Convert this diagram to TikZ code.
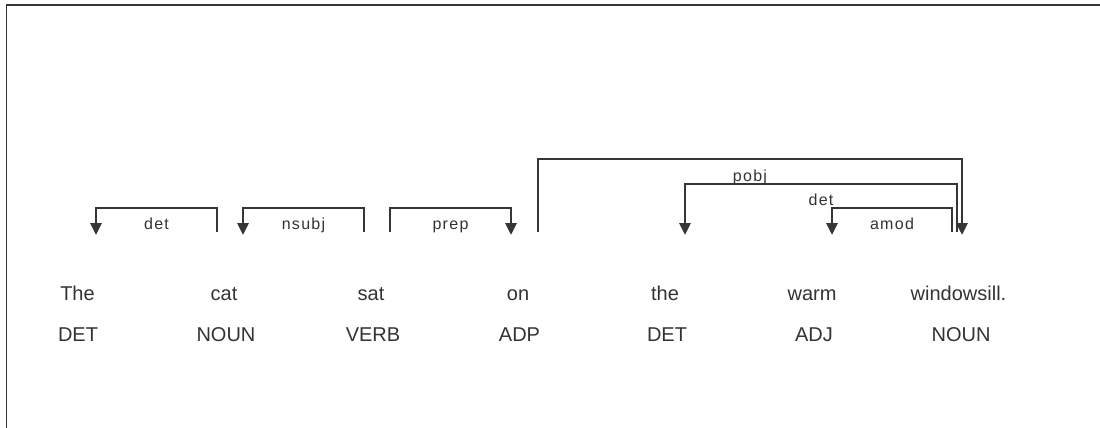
\documentclass[tikz,border=0pt]{standalone}
\usepackage{fontspec}
\setmainfont{Liberation Sans}
\usetikzlibrary{arrows.meta}
\definecolor{ink}{HTML}{333333}
\definecolor{rule}{HTML}{363636}
\begin{document}
\begin{tikzpicture}[x=1pt,y=-1pt,
  word/.style={anchor=base,text=ink,font=\fontsize{20}{24}\selectfont,inner sep=0pt},
  arclabel/.style={anchor=base,text=ink,font=\fontsize{16}{19}\selectfont\addfontfeature{LetterSpace=8},inner sep=0pt},
  deparc/.style={draw=rule,line width=2.8pt,-{Triangle[width=11pt,length=12pt]}},
  frameline/.style={draw=rule,line width=1.5pt}]
\useasboundingbox (0,0) rectangle (1100,428);
\draw[frameline] (6.5,428) -- (6.5,5) -- (1100,5);
% words
\node[word] (w0) at (77.5,300) {The};
\node[word] (w1) at (224,300) {cat};
\node[word] (w2) at (371,300) {sat};
\node[word] (w3) at (518,300) {on};
\node[word] (w4) at (665,300) {the};
\node[word] (w5) at (812,300) {warm};
\node[word] (w6) at (958.5,300) {windowsill.};
% tags
\node[word] (t0) at (78,341) {DET};
\node[word] (t1) at (226,341) {NOUN};
\node[word] (t2) at (373,341) {VERB};
\node[word] (t3) at (519.5,341) {ADP};
\node[word] (t4) at (667,341) {DET};
\node[word] (t5) at (814,341) {ADJ};
\node[word] (t6) at (961,341) {NOUN};
% arc feet
\coordinate (d1s) at (217,232); \coordinate (d1e) at (96,235);
\coordinate (d2s) at (364,232); \coordinate (d2e) at (243,235);
\coordinate (d3s) at (390,232); \coordinate (d3e) at (511,235);
\coordinate (d4s) at (538,232); \coordinate (d4e) at (962,235);
\coordinate (d5s) at (957,232); \coordinate (d5e) at (685,235);
\coordinate (d6s) at (952,232); \coordinate (d6e) at (832,235);
% arcs
\draw[deparc] (d1s) -- ++(0,-24) -| (d1e);
\draw[deparc] (d2s) -- ++(0,-24) -| (d2e);
\draw[deparc] (d3s) -- ++(0,-24) -| (d3e);
\draw[deparc] (d4s) -- ++(0,-73) -| (d4e);
\draw[deparc] (d5s) -- ++(0,-48) -| (d5e);
\draw[deparc] (d6s) -- ++(0,-24) -| (d6e);
% labels
\node[arclabel] (l1) at (156.5,229) {det};
\node[arclabel] (l2) at (303.5,229) {nsubj};
\node[arclabel] (l3) at (450.5,229) {prep};
\node[arclabel] (l4) at (750,181) {pobj};
\node[arclabel] (l5) at (821,205) {det};
\node[arclabel] (l6) at (892,229) {amod};
\end{tikzpicture}
\end{document}
